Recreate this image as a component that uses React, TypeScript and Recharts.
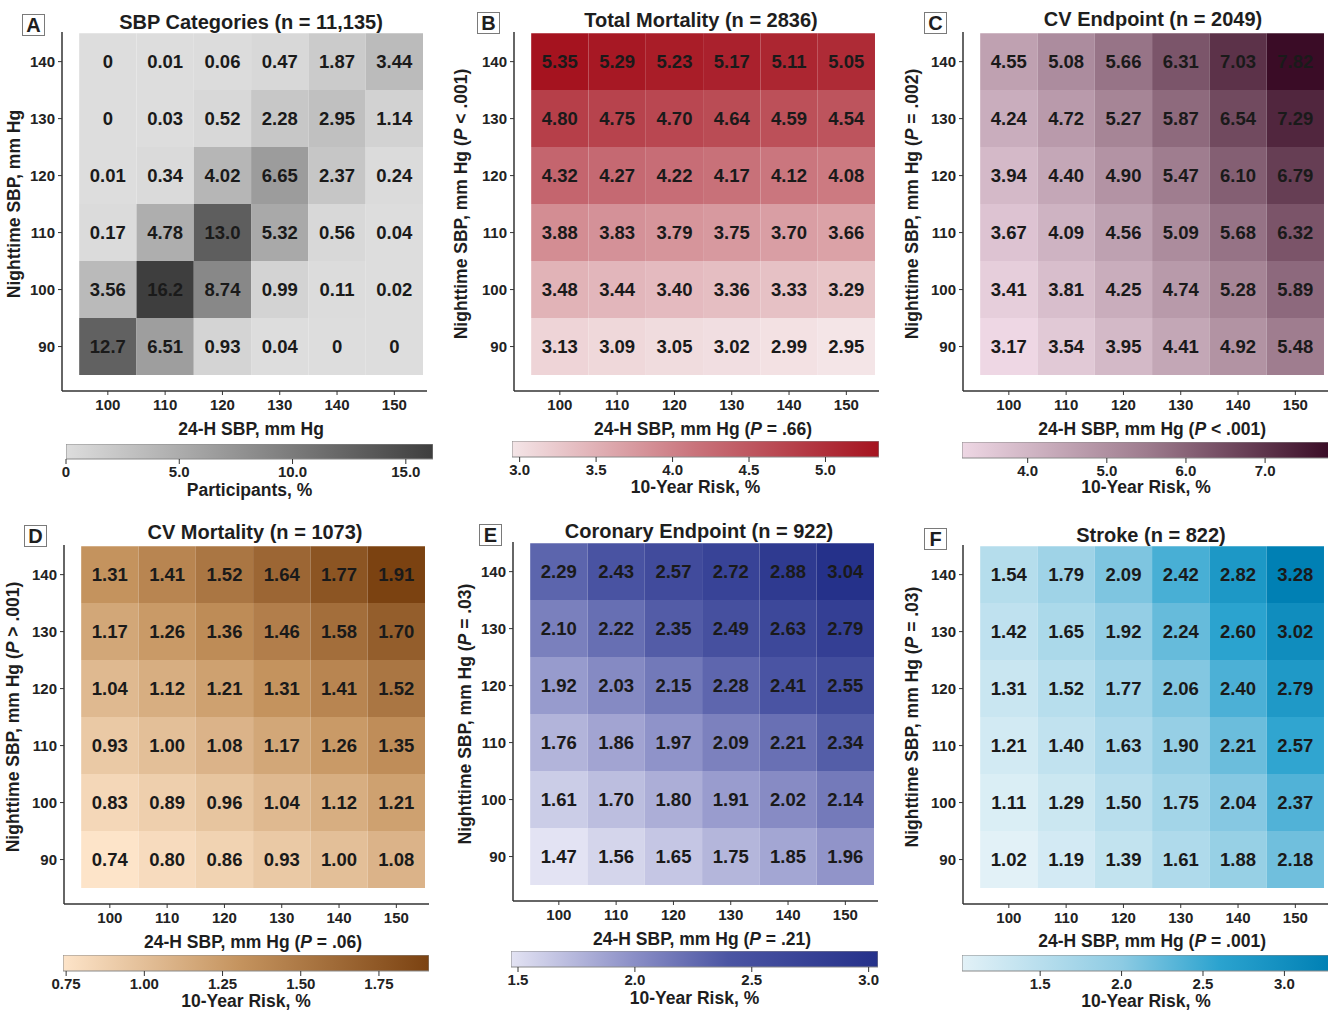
import React from 'react';
import { ScatterChart, Scatter, XAxis, YAxis, ReferenceArea, BarChart, Bar } from 'recharts';

// 24-h SBP categories (columns) and nighttime SBP categories (rows, bottom to top)
const sbp24 = [100, 110, 120, 130, 140, 150];
const sbpNight = [90, 100, 110, 120, 130, 140];

// each row is one nighttime category (90 first), values across 24-h SBP 100..150
const participantsPct = [
  [12.7, 6.51, 0.93, 0.04, 0, 0],
  [3.56, 16.2, 8.74, 0.99, 0.11, 0.02],
  [0.17, 4.78, 13.0, 5.32, 0.56, 0.04],
  [0.01, 0.34, 4.02, 6.65, 2.37, 0.24],
  [0, 0.03, 0.52, 2.28, 2.95, 1.14],
  [0, 0.01, 0.06, 0.47, 1.87, 3.44],
];
const totalMortality = [
  [3.13, 3.09, 3.05, 3.02, 2.99, 2.95],
  [3.48, 3.44, 3.4, 3.36, 3.33, 3.29],
  [3.88, 3.83, 3.79, 3.75, 3.7, 3.66],
  [4.32, 4.27, 4.22, 4.17, 4.12, 4.08],
  [4.8, 4.75, 4.7, 4.64, 4.59, 4.54],
  [5.35, 5.29, 5.23, 5.17, 5.11, 5.05],
];
const cvEndpoint = [
  [3.17, 3.54, 3.95, 4.41, 4.92, 5.48],
  [3.41, 3.81, 4.25, 4.74, 5.28, 5.89],
  [3.67, 4.09, 4.56, 5.09, 5.68, 6.32],
  [3.94, 4.4, 4.9, 5.47, 6.1, 6.79],
  [4.24, 4.72, 5.27, 5.87, 6.54, 7.29],
  [4.55, 5.08, 5.66, 6.31, 7.03, 7.82],
];
const cvMortality = [
  [0.74, 0.8, 0.86, 0.93, 1.0, 1.08],
  [0.83, 0.89, 0.96, 1.04, 1.12, 1.21],
  [0.93, 1.0, 1.08, 1.17, 1.26, 1.35],
  [1.04, 1.12, 1.21, 1.31, 1.41, 1.52],
  [1.17, 1.26, 1.36, 1.46, 1.58, 1.7],
  [1.31, 1.41, 1.52, 1.64, 1.77, 1.91],
];
const coronaryEndpoint = [
  [1.47, 1.56, 1.65, 1.75, 1.85, 1.96],
  [1.61, 1.7, 1.8, 1.91, 2.02, 2.14],
  [1.76, 1.86, 1.97, 2.09, 2.21, 2.34],
  [1.92, 2.03, 2.15, 2.28, 2.41, 2.55],
  [2.1, 2.22, 2.35, 2.49, 2.63, 2.79],
  [2.29, 2.43, 2.57, 2.72, 2.88, 3.04],
];
const strokeRisk = [
  [1.02, 1.19, 1.39, 1.61, 1.88, 2.18],
  [1.11, 1.29, 1.5, 1.75, 2.04, 2.37],
  [1.21, 1.4, 1.63, 1.9, 2.21, 2.57],
  [1.31, 1.52, 1.77, 2.06, 2.4, 2.79],
  [1.42, 1.65, 1.92, 2.24, 2.6, 3.02],
  [1.54, 1.79, 2.09, 2.42, 2.82, 3.28],
];

// colour bar ticks
const ticksA = [0, 5, 10, 15];
const ticksB = [3.0, 3.5, 4.0, 4.5, 5.0];
const ticksC = [4, 5, 6, 7];
const ticksD = [0.75, 1.0, 1.25, 1.5, 1.75];
const ticksE = [1.5, 2.0, 2.5, 3.0];
const ticksF = [1.5, 2.0, 2.5, 3.0];

const FONT = '"Liberation Sans", Arial, Helvetica, sans-serif';
const X_DOMAIN: [number, number] = [92, 155.7];
const Y_DOMAIN: [number, number] = [82.2, 145.2];
const PLOT_W = 365;
const PLOT_H = 359;
const Y_AXIS_W = 50;
const X_AXIS_H = 30;

const hex = (h: string) => [1, 3, 5].map((i) => parseInt(h.slice(i, i + 2), 16));

function colorAt(stops: [number, string][], v: number) {
  if (v <= stops[0][0]) return stops[0][1];
  for (let i = 1; i < stops.length; i++) {
    if (v <= stops[i][0]) {
      const [v0, c0] = stops[i - 1];
      const [v1, c1] = stops[i];
      const t = (v - v0) / (v1 - v0);
      const a = hex(c0);
      const b = hex(c1);
      return `rgb(${a.map((x, k) => Math.round(x + (b[k] - x) * t)).join(',')})`;
    }
  }
  return stops[stops.length - 1][1];
}

const fmtPct = (v: number) => (v === 0 ? '0' : v >= 10 ? v.toFixed(1) : v.toFixed(2));
const fmt2 = (v: number) => v.toFixed(2);

type PanelCfg = {
  letter: string;
  title: string;
  values: number[][];
  fmt: (v: number) => string;
  stops: [number, string][];
  cbTicks: number[];
  cbFmt: (v: number) => string;
  cbTitle: string;
  xP?: string;
  yP?: string;
  left: number;
  top: number;
  box: [number, number];
  titleXY: [number, number];
  xTitleY: number;
  yTitleX: number;
  cb: { x: number; y: number; w: number; h: number };
  cbTitleY: number;
};

const panels: PanelCfg[] = [
  {
    letter: 'A', title: 'SBP Categories (n = 11,135)', values: participantsPct, fmt: fmtPct,
    stops: [[0, '#dddddd'], [8, '#8f8f8f'], [16.2, '#3e3e3e']],
    cbTicks: ticksA, cbFmt: (v) => (v === 0 ? '0' : v.toFixed(1)), cbTitle: 'Participants, %',
    left: 62, top: 32, box: [22, 14], titleXY: [251, 22], xTitleY: 430, yTitleX: 15,
    cb: { x: 66, y: 444, w: 367, h: 15 }, cbTitleY: 491,
  },
  {
    letter: 'B', title: 'Total Mortality (n = 2836)', values: totalMortality, fmt: fmt2,
    stops: [[2.95, '#f4e5e7'], [4.15, '#c9737b'], [5.35, '#a5131f']],
    cbTicks: ticksB, cbFmt: (v) => v.toFixed(1), cbTitle: '10-Year Risk, %', xP: '= .66', yP: '< .001',
    left: 514, top: 32, box: [477, 12], titleXY: [701, 20], xTitleY: 430, yTitleX: 462,
    cb: { x: 512, y: 441, w: 367, h: 16 }, cbTitleY: 488,
  },
  {
    letter: 'C', title: 'CV Endpoint (n = 2049)', values: cvEndpoint, fmt: fmt2,
    stops: [[3.17, '#eed7e4'], [5.5, '#9e7c8e'], [7.82, '#3a0c26']],
    cbTicks: ticksC, cbFmt: (v) => v.toFixed(1), cbTitle: '10-Year Risk, %', xP: '< .001', yP: '= .002',
    left: 963, top: 32, box: [924, 12], titleXY: [1153, 19], xTitleY: 430, yTitleX: 913,
    cb: { x: 962, y: 442, w: 368, h: 16 }, cbTitleY: 488,
  },
  {
    letter: 'D', title: 'CV Mortality (n = 1073)', values: cvMortality, fmt: fmt2,
    stops: [[0.74, '#fde4c9'], [1.3, '#c5945f'], [1.91, '#7b4211']],
    cbTicks: ticksD, cbFmt: (v) => v.toFixed(2), cbTitle: '10-Year Risk, %', xP: '= .06', yP: '> .001',
    left: 64, top: 545, box: [24, 525], titleXY: [255, 532], xTitleY: 943, yTitleX: 14,
    cb: { x: 63, y: 955, w: 366, h: 16 }, cbTitleY: 1002,
  },
  {
    letter: 'E', title: 'Coronary Endpoint (n = 922)', values: coronaryEndpoint, fmt: fmt2,
    stops: [[1.47, '#e3e3f3'], [2.0, '#8a8ec6'], [2.4, '#4b55a3'], [3.04, '#25318a']],
    cbTicks: ticksE, cbFmt: (v) => v.toFixed(1), cbTitle: '10-Year Risk, %', xP: '= .21', yP: '= .03',
    left: 513, top: 542, box: [479, 524], titleXY: [699, 531], xTitleY: 940, yTitleX: 466,
    cb: { x: 511, y: 951, w: 367, h: 16 }, cbTitleY: 999,
  },
  {
    letter: 'F', title: 'Stroke (n = 822)', values: strokeRisk, fmt: fmt2,
    stops: [[1.02, '#e2f1f7'], [2.0, '#8dcbe3'], [2.6, '#2ba3cf'], [3.28, '#0080b4']],
    cbTicks: ticksF, cbFmt: (v) => v.toFixed(1), cbTitle: '10-Year Risk, %', xP: '= .001', yP: '= .03',
    left: 963, top: 545, box: [924, 528], titleXY: [1151, 535], xTitleY: 942, yTitleX: 913,
    cb: { x: 962, y: 955, w: 368, h: 16 }, cbTitleY: 1002,
  },
];

const textStyle = (size: number): React.CSSProperties => ({
  position: 'absolute',
  whiteSpace: 'nowrap',
  fontFamily: FONT,
  fontWeight: 'bold',
  fontSize: size,
  color: '#1e1e1e',
  lineHeight: 1,
});

function HeatPanel({ p }: { p: PanelCfg }) {
  const cells: { x: number; y: number; v: number }[] = [];
  sbpNight.forEach((ny, r) => sbp24.forEach((dx, c) => cells.push({ x: dx, y: ny, v: p.values[r][c] })));
  const flat = p.values.flat();
  const lo = Math.min(...flat);
  const hi = Math.max(...flat);
  const gradId = `grad${p.letter}`;
  const cellCenterX = p.left + ((125 - X_DOMAIN[0]) / (X_DOMAIN[1] - X_DOMAIN[0])) * PLOT_W;
  const cellCenterY = p.top + ((Y_DOMAIN[1] - 115) / (Y_DOMAIN[1] - Y_DOMAIN[0])) * PLOT_H;
  const tick = { fill: '#222', fontSize: 15, fontWeight: 'bold', fontFamily: FONT };

  return (
    <>
      <div style={{ position: 'absolute', left: p.left - Y_AXIS_W, top: p.top - 2 }}>
        <ScatterChart
          width={Y_AXIS_W + PLOT_W + 2}
          height={2 + PLOT_H + X_AXIS_H}
          margin={{ top: 2, right: 2, bottom: 0, left: 0 }}
        >
          <XAxis
            type="number" dataKey="x" domain={X_DOMAIN} ticks={sbp24} allowDataOverflow
            height={X_AXIS_H} tickSize={4} tickMargin={4} tick={tick}
            axisLine={{ stroke: '#333', strokeWidth: 1.5 }} tickLine={{ stroke: '#333' }}
          />
          <YAxis
            type="number" dataKey="y" domain={Y_DOMAIN} ticks={sbpNight} allowDataOverflow
            width={Y_AXIS_W} tickSize={4} tickMargin={3} tick={tick}
            axisLine={{ stroke: '#333', strokeWidth: 1.5 }} tickLine={{ stroke: '#333' }}
          />
          {cells.map((c) => (
            <ReferenceArea
              key={`${c.x}-${c.y}`}
              x1={c.x - 5} x2={c.x + 5} y1={c.y - 5} y2={c.y + 5}
              fill={colorAt(p.stops, c.v)} fillOpacity={1} stroke="none" ifOverflow="visible"
            />
          ))}
          <Scatter
            data={cells}
            isAnimationActive={false}
            shape={(s: any) => (
              <text
                x={s.cx} y={s.cy} textAnchor="middle" dominantBaseline="central"
                fontFamily={FONT} fontWeight="bold" fontSize={18.5} fill="#1a1a1a"
              >
                {p.fmt(s.payload.v)}
              </text>
            )}
          />
        </ScatterChart>
      </div>

      <div style={{ position: 'absolute', left: p.cb.x - 16, top: p.cb.y }}>
        <BarChart
          layout="vertical"
          width={p.cb.w + 32}
          height={p.cb.h + 26}
          data={[{ name: 'scale', range: [lo, hi] }]}
          margin={{ top: 0, right: 16, bottom: 0, left: 16 }}
          barCategoryGap={0}
        >
          <defs>
            <linearGradient id={gradId} x1="0" y1="0" x2="1" y2="0">
              {p.stops.map(([v, col]) => (
                <stop key={v} offset={(v - lo) / (hi - lo)} stopColor={col} />
              ))}
            </linearGradient>
          </defs>
          <XAxis
            type="number" domain={[lo, hi]} ticks={p.cbTicks} tickFormatter={p.cbFmt} allowDataOverflow
            height={26} axisLine={false} tickSize={5} tickMargin={2} tick={tick} tickLine={{ stroke: '#333' }}
          />
          <YAxis type="category" dataKey="name" hide />
          <Bar dataKey="range" fill={`url(#${gradId})`} stroke="#8a8a8a" strokeWidth={1} isAnimationActive={false} />
        </BarChart>
      </div>

      <div
        style={{
          ...textStyle(20), left: p.box[0], top: p.box[1], width: 21, height: 20,
          border: '1px solid #7a7a7a', display: 'flex', alignItems: 'center', justifyContent: 'center',
        }}
      >
        {p.letter}
      </div>
      <div style={{ ...textStyle(20), left: p.titleXY[0], top: p.titleXY[1], transform: 'translate(-50%,-50%)' }}>
        {p.title}
      </div>
      <div style={{ ...textStyle(17.5), left: cellCenterX, top: p.xTitleY, transform: 'translate(-50%,-50%)' }}>
        24-H SBP, mm Hg{p.xP ? <> (<i>P</i> {p.xP})</> : null}
      </div>
      <div
        style={{
          ...textStyle(17.5), left: p.yTitleX, top: cellCenterY,
          transform: 'translate(-50%,-50%) rotate(-90deg)',
        }}
      >
        Nighttime SBP, mm Hg{p.yP ? <> (<i>P</i> {p.yP})</> : null}
      </div>
      <div style={{ ...textStyle(17.5), left: p.cb.x + p.cb.w / 2, top: p.cbTitleY, transform: 'translate(-50%,-50%)' }}>
        {p.cbTitle}
      </div>
    </>
  );
}

export default function App() {
  return (
    <div
      style={{
        position: 'absolute', left: 0, top: 0, width: 1328, height: 1013,
        overflow: 'hidden', background: '#fff', fontFamily: FONT,
      }}
    >
      {panels.map((p) => (
        <HeatPanel key={p.letter} p={p} />
      ))}
    </div>
  );
}
